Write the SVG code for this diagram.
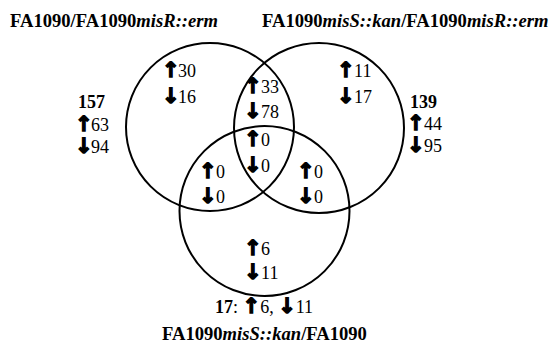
<svg xmlns="http://www.w3.org/2000/svg" width="555" height="344" viewBox="0 0 555 344">
<style>
.t{font-family:"Liberation Serif","Times New Roman",serif;font-size:18px;fill:#000}
.b{font-weight:bold}
.h{font-family:"Liberation Serif","Times New Roman",serif;font-size:18.6px;font-weight:bold;fill:#000}
.i{font-style:italic}
.a{font-family:"DejaVu Sans",sans-serif;font-size:21px;font-weight:bold;stroke:#000;stroke-width:1.4}
.c{fill:none;stroke:#000;stroke-width:2}
</style>
<rect width="555" height="344" fill="#fff"/>
<g id="connectors">
<circle class="c" cx="210" cy="127" r="84"/>
<circle class="c" cx="319" cy="128" r="85"/>
<circle class="c" cx="264.5" cy="211" r="85"/>
</g>
<g id="title-left"><text class="h" x="10" y="27">FA1090/FA1090<tspan class="i">misR::erm</tspan></text></g>
<g id="title-right"><text class="h" x="262" y="27">FA1090<tspan class="i">misS::kan</tspan>/FA1090<tspan class="i">misR::erm</tspan></text></g>
<g id="title-bottom"><text class="h" x="162" y="340">FA1090<tspan class="i">misS::kan</tspan>/FA1090</text></g>
<g id="total-left">
<text class="t b" x="78" y="108">157</text>
<text class="t" x="75" y="131"><tspan class="a">↑</tspan><tspan dx="-1.5">63</tspan></text>
<text class="t" x="75" y="153"><tspan class="a">↓</tspan><tspan dx="-1.5">94</tspan></text>
</g>
<g id="total-right">
<text class="t b" x="410" y="108">139</text>
<text class="t" x="407" y="130"><tspan class="a">↑</tspan><tspan dx="-0.5">44</tspan></text>
<text class="t" x="407" y="152"><tspan class="a">↓</tspan><tspan dx="-0.5">95</tspan></text>
</g>
<g id="total-bottom">
<text class="t" x="215" y="313"><tspan class="b">17</tspan>: <tspan class="a">↑</tspan>6, <tspan class="a">↓</tspan>11</text>
</g>
<g id="region-left">
<text class="t" x="162" y="77"><tspan class="a">↑</tspan><tspan dx="-1.5">30</tspan></text>
<text class="t" x="162" y="103"><tspan class="a">↓</tspan><tspan dx="-1.5">16</tspan></text>
</g>
<g id="region-right">
<text class="t" x="337" y="77"><tspan class="a">↑</tspan><tspan dx="-0.5">11</tspan></text>
<text class="t" x="337" y="103"><tspan class="a">↓</tspan><tspan dx="-0.5">17</tspan></text>
</g>
<g id="region-left-right">
<text class="t" x="244" y="93"><tspan class="a">↑</tspan><tspan dx="-0.5">33</tspan></text>
<text class="t" x="244" y="118"><tspan class="a">↓</tspan><tspan dx="-0.5">78</tspan></text>
</g>
<g id="region-center">
<text class="t" x="244" y="146"><tspan class="a">↑</tspan><tspan dx="-0.5">0</tspan></text>
<text class="t" x="244" y="172"><tspan class="a">↓</tspan><tspan dx="-0.5">0</tspan></text>
</g>
<g id="region-left-bottom">
<text class="t" x="199" y="178"><tspan class="a">↑</tspan><tspan dx="-0.5">0</tspan></text>
<text class="t" x="199" y="203"><tspan class="a">↓</tspan><tspan dx="-0.5">0</tspan></text>
</g>
<g id="region-right-bottom">
<text class="t" x="297" y="178"><tspan class="a">↑</tspan><tspan dx="-0.5">0</tspan></text>
<text class="t" x="297" y="203"><tspan class="a">↓</tspan><tspan dx="-0.5">0</tspan></text>
</g>
<g id="region-bottom">
<text class="t" x="244" y="255"><tspan class="a">↑</tspan><tspan dx="-0.5">6</tspan></text>
<text class="t" x="244" y="279"><tspan class="a">↓</tspan><tspan dx="-0.5">11</tspan></text>
</g>
</svg>
